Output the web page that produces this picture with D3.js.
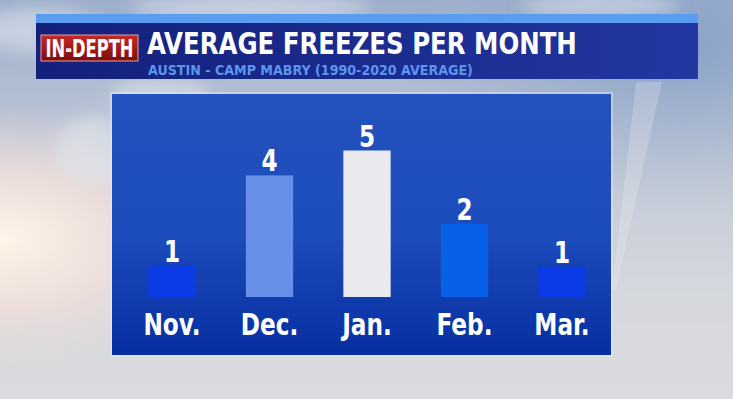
<!DOCTYPE html>
<html>
<head>
<meta charset="utf-8">
<script src="https://cdn.jsdelivr.net/npm/d3@7"></script>
<style>
  body { margin: 0; overflow: hidden; }
  text { font-family: "Liberation Sans Narrow", "DejaVu Sans Condensed", "Roboto", sans-serif; font-weight: bold; }
</style>
</head>
<body>
<script>
var months = ["Nov.", "Dec.", "Jan.", "Feb.", "Mar."];
var freezes = [1.05, 4.15, 5.0, 2.5, 1.03];
var valueLabels = ["1", "4", "5", "2", "1"];
var barColors = ["#0a3be6", "#6890e8", "#e9e9ee", "#0860e8", "#0a3be6"];

var title = "AVERAGE FREEZES PER MONTH";
var subtitle = "AUSTIN - CAMP MABRY (1990-2020 AVERAGE)";
var tag = "IN-DEPTH";

var w = 733;
var h = 399;

// the original face is narrower than what we have, so scale text horizontally
function squeeze(sel, k) {
    sel.attr("transform", "scale(" + k + ",1)");
}

// place a text at x,y and stretch it to a given width
function fitText(g, str, x, y, width, size, anchor, fill) {
    var t = g.append("text")
        .attr("text-anchor", anchor)
        .style("font-size", size + "px")
        .style("fill", fill)
        .text(str);
    var L = t.node().getComputedTextLength();
    t.attr("transform", "translate(" + x + "," + y + ") scale(" + (width / L) + ",1)");
    return t;
}

var svg = d3.select("body")
    .append("svg")
    .attr("width", w)
    .attr("height", h);

var defs = svg.append("defs");

// sky background
var sky = defs.append("linearGradient").attr("id", "sky")
    .attr("x1", 0).attr("y1", 0).attr("x2", 0).attr("y2", 1);
sky.append("stop").attr("offset", "0%").attr("stop-color", "#9dafcb");
sky.append("stop").attr("offset", "35%").attr("stop-color", "#bcc5d5");
sky.append("stop").attr("offset", "70%").attr("stop-color", "#d4d7dd");
sky.append("stop").attr("offset", "100%").attr("stop-color", "#dadbde");

var glow = defs.append("radialGradient").attr("id", "glow")
    .attr("cx", 0.0).attr("cy", 0.6).attr("r", 0.34);
glow.append("stop").attr("offset", "0%").attr("stop-color", "#fff5e8").attr("stop-opacity", 1);
glow.append("stop").attr("offset", "50%").attr("stop-color", "#f3e0da").attr("stop-opacity", 0.8);
glow.append("stop").attr("offset", "100%").attr("stop-color", "#e6d8da").attr("stop-opacity", 0);

var blueSky = defs.append("radialGradient").attr("id", "blueSky")
    .attr("cx", 0.92).attr("cy", 0.12).attr("r", 0.4);
blueSky.append("stop").attr("offset", "0%").attr("stop-color", "#7f9cc6").attr("stop-opacity", 0.8);
blueSky.append("stop").attr("offset", "100%").attr("stop-color", "#9fb0cc").attr("stop-opacity", 0);

var panelGrad = defs.append("linearGradient").attr("id", "panel")
    .attr("x1", 0).attr("y1", 0).attr("x2", 0).attr("y2", 1);
panelGrad.append("stop").attr("offset", "0%").attr("stop-color", "#2453bf");
panelGrad.append("stop").attr("offset", "55%").attr("stop-color", "#1c4bbb");
panelGrad.append("stop").attr("offset", "100%").attr("stop-color", "#072ea0");

var navy = defs.append("linearGradient").attr("id", "navy")
    .attr("x1", 0).attr("y1", 0).attr("x2", 1).attr("y2", 0);
navy.append("stop").attr("offset", "0%").attr("stop-color", "#14207a");
navy.append("stop").attr("offset", "100%").attr("stop-color", "#2237a2");

var red = defs.append("linearGradient").attr("id", "red")
    .attr("x1", 0).attr("y1", 0).attr("x2", 0).attr("y2", 1);
red.append("stop").attr("offset", "0%").attr("stop-color", "#c52a25");
red.append("stop").attr("offset", "100%").attr("stop-color", "#7d0d0e");

defs.append("filter").attr("id", "blur")
    .append("feGaussianBlur").attr("stdDeviation", 8);

svg.append("rect").attr("width", w).attr("height", h).style("fill", "url(#sky)");
svg.append("rect").attr("width", w).attr("height", h).style("fill", "url(#blueSky)");
svg.append("rect").attr("width", w).attr("height", h).style("fill", "url(#glow)");

// soft clouds
var clouds = [[40, 30, 60, 22], [250, 8, 120, 14], [600, 6, 80, 12], [95, 150, 40, 35], [160, 95, 50, 16]];
svg.append("g").attr("filter", "url(#blur)").selectAll("ellipse")
    .data(clouds)
    .enter()
    .append("ellipse")
    .attr("cx", function(d) { return d[0]; })
    .attr("cy", function(d) { return d[1]; })
    .attr("rx", function(d) { return d[2]; })
    .attr("ry", function(d) { return d[3]; })
    .style("fill", "#e4e8ef")
    .style("opacity", 0.55);

// faint diagonal streak on the right
svg.append("path")
    .attr("d", "M636,82 L662,82 L616,290 L612,290 Z")
    .style("fill", "#eef0f4")
    .style("opacity", 0.25);

// header
var header = svg.append("g");
header.append("rect").attr("x", 36).attr("y", 14).attr("width", 662).attr("height", 9).style("fill", "#5a9cf0");
header.append("rect").attr("x", 36).attr("y", 23).attr("width", 662).attr("height", 56).style("fill", "url(#navy)");
header.append("rect").attr("x", 41).attr("y", 35).attr("width", 97).attr("height", 26)
    .style("fill", "url(#red)").style("stroke", "#e8a0a0").style("stroke-width", 1);

fitText(header, tag, 89.5, 57, 88, 25, "middle", "#ffffff");
fitText(header, title, 147, 54, 430, 31, "start", "#ffffff");
fitText(header, subtitle, 148, 75, 325, 14.5, "start", "#5b95ec");

// chart panel
svg.append("rect")
    .attr("x", 111).attr("y", 93).attr("width", 501).attr("height", 263)
    .style("fill", "none").style("stroke", "#e6e9ef").style("stroke-width", 1.5).style("opacity", 0.6);
svg.append("rect")
    .attr("x", 112).attr("y", 94).attr("width", 499).attr("height", 261)
    .style("fill", "url(#panel)");

var xScale = d3.scaleBand()
    .domain(months)
    .range([123.25, 610.75])
    .paddingInner(0.515)
    .paddingOuter(0.2575);

var yScale = d3.scaleLinear()
    .domain([0, 5])
    .range([297, 150.5]);

svg.selectAll(".bar")
    .data(months)
    .enter()
    .append("rect")
    .attr("class", "bar")
    .attr("x", function(d) { return xScale(d); })
    .attr("y", function(d, i) { return yScale(freezes[i]); })
    .attr("width", xScale.bandwidth())
    .attr("height", function(d, i) { return yScale(0) - yScale(freezes[i]); })
    .style("fill", function(d, i) { return barColors[i]; });

svg.selectAll(".val")
    .data(months)
    .enter()
    .append("g")
    .attr("class", "val")
    .attr("transform", function(d, i) {
        return "translate(" + (xScale(d) + xScale.bandwidth() / 2) + "," + (yScale(freezes[i]) - 4) + ")";
    })
    .append("text")
    .attr("text-anchor", "middle")
    .attr("transform", "scale(0.83,1)")
    .style("fill", "#ffffff")
    .style("font-size", "31px")
    .text(function(d, i) { return valueLabels[i]; });

var xAxis = d3.axisBottom(xScale).tickSize(0).tickPadding(0);
var ax = svg.append("g")
    .attr("class", "axis")
    .attr("transform", "translate(0,335)")
    .call(xAxis);
ax.select(".domain").remove();
ax.selectAll("text")
    .attr("dy", 0)
    .attr("y", 0)
    .style("fill", "#ffffff")
    .style("font-size", "30px")
    .style("font-family", "\"Liberation Sans Narrow\", \"DejaVu Sans Condensed\", sans-serif")
    .style("font-weight", "bold");
squeeze(ax.selectAll("text"), 0.86);
</script>
</body>
</html>
